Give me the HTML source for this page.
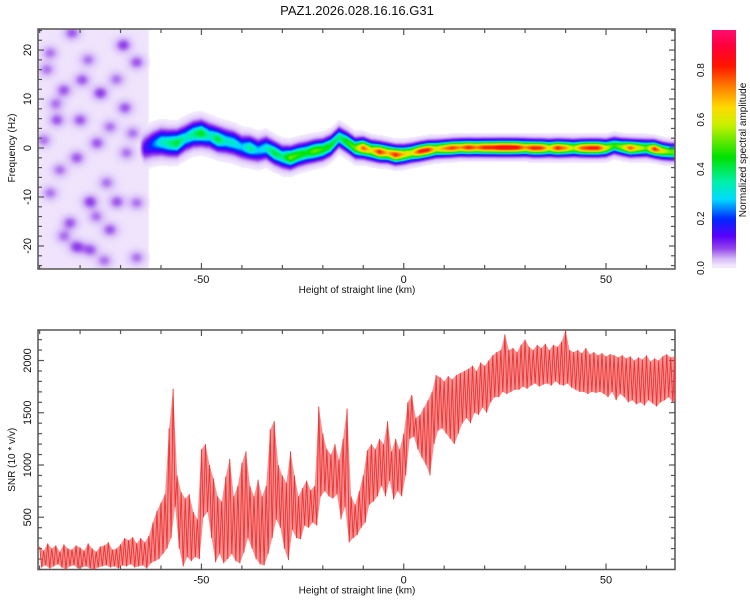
<!DOCTYPE html>
<html><head><meta charset="utf-8">
<style>
html,body{margin:0;padding:0;background:#fff;}
#wrap{position:relative;width:750px;height:600px;overflow:hidden;font-family:"Liberation Sans",sans-serif;}
#heat{position:absolute;left:38px;top:29px;}
#cbar{position:absolute;left:712px;top:30px;}
svg{position:absolute;left:0;top:0;}
text{font-family:"Liberation Sans",sans-serif;fill:#111;}
</style></head>
<body>
<div id="wrap">
<canvas id="heat" width="637" height="240"></canvas>
<canvas id="cbar" width="24" height="238"></canvas>
<svg id="svg" width="750" height="600" xmlns="http://www.w3.org/2000/svg">
<text x="357" y="15" font-size="13" text-anchor="middle">PAZ1.2026.028.16.16.G31</text>
<g id="top-axes"></g>
<g id="bot-axes"></g>
<g id="cb-axes"></g>
<path id="snr-fill" fill="rgba(238,55,55,0.55)" stroke="none"/>
<polyline id="snr-line" fill="none" stroke="#ee3333" stroke-width="0.9"/>
</svg>
</div>
<script>
// ---------- SNR data (per km from -90 to 67) ----------
const snrStartKm = -90;
const snrHi = [220,180,250,200,230,170,240,200,190,230,210,180,250,200,170,220,230,260,190,200,240,300,280,310,250,300,260,320,
450,560,640,720,1350,1730,900,740,680,720,550,480,1150,1200,1000,870,700,650,890,1060,
700,800,1020,1130,800,700,860,700,800,1340,1420,1000,900,830,1130,900,700,780,850,760,800,1560,1300,1150,1100,1200,1050,1250,1540,700,620,750,
900,1140,1200,1150,1250,1200,1420,1130,1250,1150,1300,1600,1670,1450,1480,1550,1620,1700,1860,
1840,1800,1850,1820,1860,1880,1900,1920,1950,1900,1980,1950,2000,2050,2080,2100,2250,2100,2120,2080,2150,2200,2130,2100,2150,2120,2160,2100,2150,2130,2180,2290,2100,2080,2100,2070,2120,2060,2080,2050,2070,2040,2060,2050,2030,2050,2020,2040,2000,2030,2010,2050,1990,2020,2000,2040,2060,2030,2040];
const snrLo = [20,40,10,30,50,20,0,30,40,10,20,30,10,0,20,30,40,20,30,10,40,30,50,20,30,40,10,60,
80,100,150,200,300,600,200,30,120,80,120,100,500,550,300,70,150,60,100,150,
80,60,160,300,200,100,50,40,150,300,480,400,200,90,380,300,290,420,400,450,420,700,750,700,680,720,480,600,260,300,330,400,
450,620,650,700,800,700,850,670,750,700,900,1250,1270,1150,1070,1000,900,1200,1330,
1350,1300,1250,1200,1300,1400,1450,1400,1500,1480,1550,1500,1600,1650,1650,1700,1680,1700,1720,1720,1750,1730,1760,1780,1750,1770,1780,1760,1800,1770,1760,1780,1740,1720,1700,1700,1680,1700,1690,1700,1680,1650,1700,1620,1680,1650,1600,1620,1580,1600,1570,1620,1590,1560,1600,1620,1650,1600,1630];
const snrTicks = [500,1000,1500,2000];
const xTicks = [-50,0,50];

// ---------- Spectrogram data ----------
const bandKm = [-64,-62,-60,-58,-56,-54,-52,-50,-48,-46,-44,-42,-40,-38,-36,-34,-32,-30,-28,-26,-24,-22,-20,-18,-16,-14,-12,-10,-8,-6,-4,-2,0,2,4,6,8,10,12,14,16,18,20,22,24,26,28,30,32,34,36,38,40,42,44,46,48,50,52,54,56,58,60,62,64,66];
const bandFreq = [0.0,0.8,1.2,1.0,1.0,2.0,2.8,3.0,2.5,1.8,1.4,1.0,0.2,0.0,-0.5,0.0,-1.0,-1.8,-2.0,-1.4,-1.0,-0.6,-0.3,0.5,2.2,1.2,0.0,0.0,-0.5,-0.8,-1.0,-1.4,-1.3,-1.0,-0.7,-0.4,-0.2,-0.1,0.0,0.1,0.1,0.1,0.1,0.1,0.1,0.1,0.1,0.1,0.0,0.0,0.0,0.0,0.0,0.0,0.0,0.0,0.0,0.0,0.5,0.2,0.0,0.0,0.0,-0.2,-0.6,-0.8];
const bandAmp = [0.12,0.2,0.3,0.35,0.4,0.3,0.35,0.42,0.3,0.4,0.3,0.3,0.25,0.35,0.25,0.3,0.4,0.35,0.5,0.45,0.42,0.5,0.45,0.42,0.35,0.45,0.5,0.75,0.6,0.8,0.65,0.8,0.65,0.6,0.8,0.8,0.6,0.7,0.78,0.7,0.8,0.72,0.8,0.8,0.85,0.85,0.82,0.7,0.8,0.78,0.6,0.8,0.7,0.55,0.75,0.8,0.8,0.6,0.45,0.55,0.75,0.6,0.5,0.8,0.6,0.5];
const blobKm = [-69.3,-82,-79.5,-75,-68.9,-84,-66,-87.4,-85.7,-75.8,-80.8,-73.4,-85,-77.5,-70.9,-66,-82.5,-72.6,-80.8,-77.5,-66,-88.2,-80,-72.6,-89,-68.5,-87.4,-78,-71,-84,-67,-76,-86,-74];
const blobHz = [21,23.5,13.9,11.2,8.2,11.8,17.5,19.4,5.7,1,-2,-7.1,-4.5,-11,-11,-11.2,-15.3,-16.7,-20.2,-20.8,-22.4,16,5.7,4.3,1.6,-1,-9.2,18,14,-18,3,-14,9,-23];
const blobAmp = [0.07,0.06,0.06,0.07,0.06,0.06,0.06,0.05,0.06,0.06,0.06,0.05,0.05,0.07,0.06,0.05,0.06,0.06,0.07,0.06,0.05,0.05,0.06,0.05,0.05,0.05,0.05,0.05,0.05,0.05,0.05,0.05,0.05,0.05];
const cbTicks = [0.0,0.2,0.4,0.6,0.8];

// ---------- geometry ----------
const PX0=38, PX1=675;
const KM0=-90.4, KM1=67.05;
const xs = km => PX0 + (km-KM0)/(KM1-KM0)*(PX1-PX0);
const TY0=29, TY1=269, HZ0=24.3, HZ1=-24.7;
const ty = hz => TY0 + (HZ0-hz)/(HZ0-HZ1)*(TY1-TY0);
const BY0=330, BY1=569.5, S0=0, S1=2292;
const by = v => BY1 - (v-S0)/(S1-S0)*(BY1-BY0);
const CB0=268, CB1=20.7;
const cy = v => CB0 - v*(CB0-CB1);

const NS="http://www.w3.org/2000/svg";
function mk(tag, attrs, parent, txt){
  const e=document.createElementNS(NS,tag);
  for(const k in attrs) e.setAttribute(k,attrs[k]);
  if(txt!==undefined) e.textContent=txt;
  parent.appendChild(e); return e;
}
const FR="#555";

function frame(g, y0, y1){
  const r = mk('rect',{x:PX0,y:y0,width:PX1-PX0,height:y1-y0,fill:'none',stroke:FR,'stroke-width':1.5},g);
  
  
  for(let km=-90; km<=60; km+=10){
    const x=xs(km), L=(km%50===0)?6:4;
    mk('line',{x1:x,y1:y1,x2:x,y2:y1-L,stroke:FR,'stroke-width':1.2},g);
    mk('line',{x1:x,y1:y0,x2:x,y2:y0+L,stroke:FR,'stroke-width':1.2},g);
  }
  xTicks.forEach(t=>{
    const lab = mk('text',{x:xs(t),y:y1+14,'font-size':11,'text-anchor':'middle'},g,String(t));
    
    
  });
  const xt = mk('text',{x:357,y:y1+24,'font-size':10,'text-anchor':'middle'},g,'Height of straight line (km)');
  
  
}

const gT=document.getElementById('top-axes');
frame(gT,TY0,TY1);
for(let hz=-24; hz<=24; hz+=2){
  const y=ty(hz), L=(hz%10===0)?6:4;
  mk('line',{x1:PX0,y1:y,x2:PX0+L,y2:y,stroke:FR,'stroke-width':1.2},gT);
  mk('line',{x1:PX1,y1:y,x2:PX1-L,y2:y,stroke:FR,'stroke-width':1.2},gT);
}
[-20,-10,0,10,20].forEach(t=>{
  const lab = mk('text',{x:0,y:0,'font-size':11,'text-anchor':'middle',transform:`translate(31,${ty(t)}) rotate(-90)`},gT,String(t));
  
  
});
const yt1 = mk('text',{x:0,y:0,'font-size':10,'text-anchor':'middle',transform:`translate(15,${ty(0)}) rotate(-90)`},gT,'Frequency (Hz)');



const gB=document.getElementById('bot-axes');
frame(gB,BY0,BY1);
for(let v=100; v<=2200; v+=100){
  const y=by(v), L=(v%500===0)?6:4;
  mk('line',{x1:PX0,y1:y,x2:PX0+L,y2:y,stroke:FR,'stroke-width':1.2},gB);
  mk('line',{x1:PX1,y1:y,x2:PX1-L,y2:y,stroke:FR,'stroke-width':1.2},gB);
}
snrTicks.forEach(t=>{
  const lab = mk('text',{x:0,y:0,'font-size':11,'text-anchor':'middle',transform:`translate(31,${by(t)}) rotate(-90)`},gB,String(t));
  
  
});
const yt2 = mk('text',{x:0,y:0,'font-size':10,'text-anchor':'middle',transform:`translate(15,${by(1050)}) rotate(-90)`},gB,'SNR (10 * v/v)');



// SNR line
const pts=[], up=[], dn=[];
for(let i=0;i<snrHi.length;i++){
  const km=snrStartKm+i;
  const a=[xs(km),by(snrHi[i])], b=[xs(Math.min(km+0.5,KM1)),by(snrLo[i])];
  pts.push(a.join(','),b.join(','));
  up.push(a.join(',')); dn.unshift(b.join(','));
}
document.getElementById('snr-line').setAttribute('points',pts.join(' '));
document.getElementById('snr-fill').setAttribute('d','M'+up.join(' L')+' L'+dn.join(' L')+'Z');

// colormap
const stops=[[0,[255,255,255]],[0.015,[238,226,252]],[0.04,[212,184,247]],[0.08,[150,70,235]],[0.13,[90,0,250]],[0.2,[0,40,255]],[0.28,[0,220,255]],[0.35,[0,240,170]],[0.45,[0,225,0]],[0.58,[200,240,0]],[0.65,[255,220,0]],[0.74,[255,120,0]],[0.82,[255,20,0]],[0.9,[255,0,60]],[1,[255,20,140]]];
function cmap(v){
  if(v<=0.01) return [255,255,255];
  for(let i=1;i<stops.length;i++){
    if(v<=stops[i][0]){
      const [a,ca]=stops[i-1],[b,cb]=stops[i];const t=(v-a)/(b-a);
      return ca.map((c,j)=>Math.round(c+(cb[j]-c)*t));
    }
  }
  return stops[stops.length-1][1];
}
function interp(arr,km){
  if(km<=bandKm[0]) return arr[0];
  for(let i=1;i<bandKm.length;i++) if(km<=bandKm[i]){const t=(km-bandKm[i-1])/(bandKm[i]-bandKm[i-1]);return arr[i-1]+(arr[i]-arr[i-1])*t;}
  return arr[arr.length-1];
}
const hc=document.getElementById('heat').getContext('2d');
const W=637,H=240,img=hc.createImageData(W,H);
for(let px=0;px<W;px++){
  const km=KM0+(px+0.5)/W*(KM1-KM0);
  const f0=interp(bandFreq,km), amp=interp(bandAmp,km);
  const sig = 1.4 - 0.55*Math.min(1,Math.max(0,(km+60)/70));
  const onset = km<-64? Math.max(0,1-(-64-km)/1.5) : 1;
  for(let py=0;py<H;py++){
    const hz=HZ0-(py+0.5)/H*(HZ0-HZ1);
    let v=0;
    const d=hz-f0;
    v += onset*(amp*Math.exp(-d*d/(2*sig*sig)) + 0.022*Math.exp(-d*d/(2*(2.6*sig)*(2.6*sig))));
    if(km<-62){ v=Math.max(v, 0.014*Math.min(1,(-62-km)/1.5)); }
    for(let b=0;b<blobKm.length;b++){
      const dk=(km-blobKm[b])/1.9, dh=(hz-blobHz[b])/1.4;
      const q=dk*dk+dh*dh; if(q<9) v+=blobAmp[b]*Math.exp(-q);
    }
    const c=cmap(Math.min(v,0.97)); const o=(py*W+px)*4;
    img.data[o]=c[0];img.data[o+1]=c[1];img.data[o+2]=c[2];img.data[o+3]=255;
  }
}
hc.putImageData(img,0,0);
const cc=document.getElementById('cbar').getContext('2d');
for(let py=0;py<238;py++){
  const v=(CB0-(30+py))/(CB0-CB1);
  const c=cmap(Math.max(0.012,v));
  cc.fillStyle=`rgb(${c[0]},${c[1]},${c[2]})`;cc.fillRect(0,py,24,1);
}
const gC=document.getElementById('cb-axes');
cbTicks.forEach(t=>{
  const lab = mk('text',{x:0,y:0,'font-size':10,'text-anchor':'middle',transform:`translate(704,${cy(t)}) rotate(-90)`},gC,t.toFixed(1));
  
  
});
const ct = mk('text',{x:0,y:0,'font-size':10,'text-anchor':'middle',transform:`translate(746,150) rotate(-90)`},gC,'Normalized spectral amplitude');


</script>
</body></html>
